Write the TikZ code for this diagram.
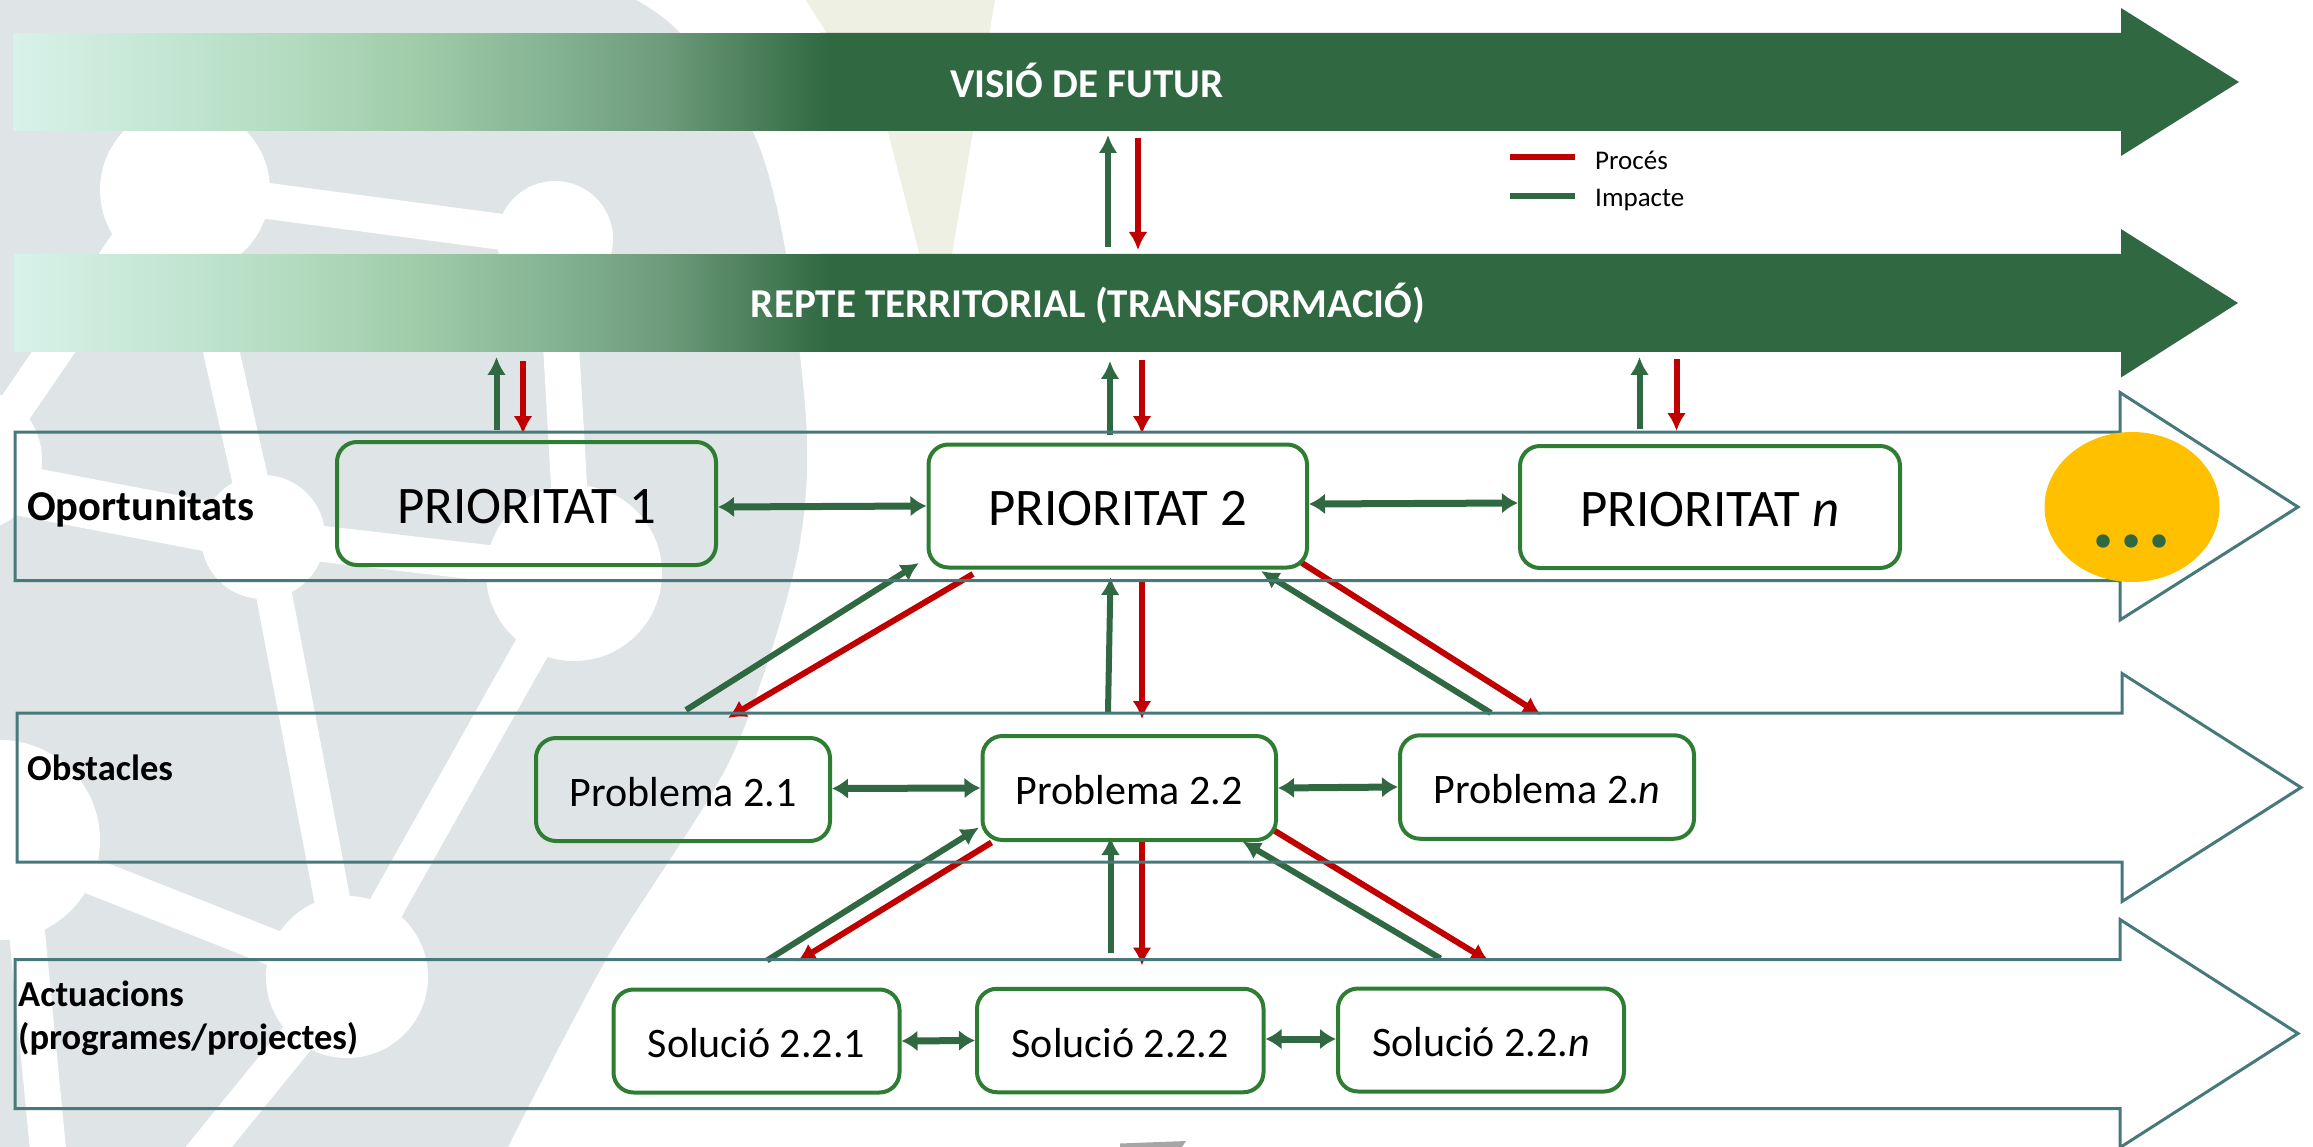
\documentclass[tikz,border=0pt]{standalone}
\usepackage{fontspec}
\setmainfont{Carlito}
\usetikzlibrary{arrows.meta,shapes.geometric}
\definecolor{verda}{HTML}{2F6841}
\definecolor{vermell}{HTML}{C00000}
\definecolor{vora}{HTML}{47797A}
\definecolor{caixaverda}{HTML}{2E7D32}
\definecolor{fons}{HTML}{DFE4E7}
\definecolor{oliva}{HTML}{EEF0E4}
\definecolor{groc}{HTML}{FFC000}
\definecolor{fadeA}{HTML}{D8F2EA}
\definecolor{fadeB}{HTML}{B5DDC2}
\definecolor{fadeC}{HTML}{A0CCAA}
\definecolor{fadeD}{HTML}{84B393}
\definecolor{fadeE}{HTML}{6C9A7A}
\pgfdeclarehorizontalshading{bandfade}{100bp}{color(0bp)=(fadeA); color(25bp)=(fadeA); color(41bp)=(fadeB); color(49.5bp)=(fadeC); color(58bp)=(fadeD); color(65bp)=(fadeE); color(75bp)=(verda); color(100bp)=(verda)}
\tikzset{
  impacte/.style={draw=verda,line width=6pt,-{Latex[length=18pt,width=19pt]}},
  proces/.style={draw=vermell,line width=6pt,-{Latex[length=18pt,width=19pt]}},
  enllac/.style={draw=verda,line width=7pt,{Latex[length=16pt,width=21pt]}-{Latex[length=16pt,width=21pt]}},
  fletxa/.style={draw=vora,line width=3pt,miter limit=10},
  xarxa/.style={draw=white,line width=36pt},
  caixa/.style={draw=caixaverda,line width=4pt,rounded corners=20pt,text height=33pt,text depth=0pt,font=\fontsize{42}{50}\selectfont},
  gran/.style={text height=39pt,font=\fontsize{52.8}{60}\selectfont},
  titol/.style={text=white,font=\bfseries\fontsize{41}{48}\selectfont},
  etiqueta/.style={anchor=west,align=left,font=\bfseries\fontsize{36.5}{43}\selectfont},
  llegenda/.style={anchor=west,font=\fontsize{27}{32}\selectfont}
}
\begin{document}
\begin{tikzpicture}[x=1pt,y=-1pt]
\tikzstyle{every node}+=[inner sep=0pt]
\useasboundingbox (0,0) rectangle (2313,1147);
\fill [fons] (0,0) -- plot [smooth] coordinates {(636,0) (680,33) (753,132) (786,254) (807,439) (794,571) (730,760) (607,958) (508,1147)} -- (0,1147) -- cycle;
\draw [xarxa] (185,190) -- (555,239);
\draw [xarxa] (185,190) -- (263,537);
\draw [xarxa] (130,240) -- (-10,445);
\draw [xarxa,line width=50pt] (-30,481) -- (263,537);
\draw [xarxa] (263,537) -- (574,573);
\draw [xarxa] (555,239) -- (574,573);
\draw [xarxa] (263,537) -- (347,977);
\draw [xarxa] (574,573) -- (347,977);
\draw [xarxa] (0,840) -- (347,977);
\draw [xarxa] (347,977) -- (190,1170);
\draw [xarxa] (20,860) -- (49,1160);
\fill [white] (185,190) circle (85);
\fill [white] (555,239) circle (58);
\fill [white] (263,537) circle (62);
\fill [white] (574,573) circle (88);
\fill [white] (347,977) circle (81);
\fill [white] (0,840) circle (100);
\fill [white] (-30,460) circle (72);
\fill [oliva] (806,0) -- (995,0) -- (973,132) -- (951,260) -- (921,260) -- (888,132) -- cycle;
\fill [black!35] (1120,1143.5) -- (1186,1141) -- (1182,1147) -- (1120,1147) -- cycle;
\fill [verda] (820,33) -- (2121,33) -- (2121,8) -- (2239,82) -- (2121,156) -- (2121,131) -- (820,131) -- cycle;
\shade [shading=bandfade] (13,33.5) rectangle (830,130.5);
\fill [verda] (820,254) -- (2121,254) -- (2121,229) -- (2238,303) -- (2121,377.5) -- (2121,352) -- (820,352) -- cycle;
\shade [shading=bandfade] (14,254.5) rectangle (831,351.5);
\node [titol] (visio) at (1087,80) {VISIÓ DE FUTUR};
\node [titol] (repte) at (1088,303) {REPTE TERRITORIAL (TRANSFORMACIÓ)};
\coordinate (visioA) at (1108,247);
\coordinate (visioB) at (1108,135);
\draw [impacte] (visioA) -- (visioB);
\coordinate (visioC) at (1138,138);
\coordinate (visioD) at (1138,250);
\draw [proces] (visioC) -- (visioD);
\coordinate (repteA) at (496.5,430);
\coordinate (repteB) at (496.5,357);
\draw [impacte] (repteA) -- (repteB);
\coordinate (repteC) at (523,361);
\coordinate (repteD) at (523,434);
\draw [proces] (repteC) -- (repteD);
\coordinate (repteE) at (1110,435);
\coordinate (repteF) at (1110,361);
\draw [impacte] (repteE) -- (repteF);
\coordinate (repteG) at (1142,360.5);
\coordinate (repteH) at (1142,434);
\draw [proces] (repteG) -- (repteH);
\coordinate (repteI) at (1639.5,429);
\coordinate (repteJ) at (1639.5,357);
\draw [impacte] (repteI) -- (repteJ);
\coordinate (repteK) at (1676.5,359.5);
\coordinate (repteL) at (1676.5,431);
\draw [proces] (repteK) -- (repteL);
\coordinate (obsA) at (686,710);
\coordinate (obsB) at (919,563);
\draw [impacte] (obsA) -- (obsB);
\coordinate (obsC) at (973,574);
\coordinate (obsD) at (728,718);
\draw [proces] (obsC) -- (obsD);
\coordinate (obsE) at (1108,712);
\coordinate (obsF) at (1110.5,577);
\draw [impacte] (obsE) -- (obsF);
\coordinate (obsG) at (1142,581);
\coordinate (obsH) at (1142,719);
\draw [proces] (obsG) -- (obsH);
\coordinate (obsI) at (1491,713);
\coordinate (obsJ) at (1261,571);
\draw [impacte] (obsI) -- (obsJ);
\coordinate (obsK) at (1302,563);
\coordinate (obsL) at (1541,715);
\draw [proces] (obsK) -- (obsL);
\coordinate (actA) at (767,960.5);
\coordinate (actB) at (979,827.5);
\draw [impacte] (actA) -- (actB);
\coordinate (actC) at (991.5,842.5);
\coordinate (actD) at (797.5,961.5);
\draw [proces] (actC) -- (actD);
\coordinate (actE) at (1110.5,953);
\coordinate (actF) at (1110.5,837);
\draw [impacte] (actE) -- (actF);
\coordinate (actG) at (1142,841);
\coordinate (actH) at (1142,965.5);
\draw [proces] (actG) -- (actH);
\coordinate (actI) at (1440.5,958.5);
\coordinate (actJ) at (1242.5,841.5);
\draw [impacte] (actI) -- (actJ);
\coordinate (actK) at (1272.5,829.5);
\coordinate (actL) at (1489,961.5);
\draw [proces] (actK) -- (actL);
\draw [fletxa] (15,432) -- (2120,432) -- (2120,392.5) -- (2298,507) -- (2120,620) -- (2120,580.5) -- (15,580.5) -- cycle;
\draw [fletxa] (17,713) -- (2122,713) -- (2122,673.5) -- (2301,787.5) -- (2122,901.5) -- (2122,862) -- (17,862) -- cycle;
\draw [fletxa] (15,959.5) -- (2120,959.5) -- (2120,919.5) -- (2298,1033.5) -- (2120,1147.5) -- (2120,1108.5) -- (15,1108.5) -- cycle;
\node [etiqueta,font=\bfseries\fontsize{42.5}{50}\selectfont] (oportunitats) at (27,509) {Oportunitats};
\node [etiqueta] (obstacles) at (27,768) {Obstacles};
\node [etiqueta] (actuacions) at (18,1018.5) {Actuacions\\(programes/projectes)};
\node [caixa,gran,minimum width=379pt,minimum height=123pt] (prioritat1) at (526.5,503.5) {PRIORITAT 1};
\node [caixa,gran,minimum width=378.5pt,minimum height=123pt] (prioritat2) at (1117.75,506) {PRIORITAT 2};
\node [caixa,gran,minimum width=380pt,minimum height=122pt] (prioritatn) at (1710,507) {PRIORITAT \textit{n}};
\node [caixa,minimum width=294pt,minimum height=103pt] (problema1) at (683,789.5) {Problema 2.1};
\node [caixa,minimum width=293.5pt,minimum height=104pt] (problema2) at (1129.25,788) {Problema 2.2};
\node [caixa,minimum width=294pt,minimum height=103.5pt] (probleman) at (1547,787) {Problema 2.\textit{n}};
\node [caixa,minimum width=286pt,minimum height=103pt] (solucio1) at (756.5,1041) {Solució 2.2.1};
\node [caixa,minimum width=286.5pt,minimum height=103.5pt] (solucio2) at (1120.25,1040.5) {Solució 2.2.2};
\node [caixa,minimum width=286pt,minimum height=103pt] (solucion) at (1481,1040) {Solució 2.2.\textit{n}};
\draw [enllac] ([yshift=-3.5pt]prioritat1.east) -- (prioritat2.west);
\draw [enllac] ([yshift=2pt]prioritat2.east) -- ([yshift=4pt]prioritatn.west);
\draw [enllac] ([yshift=1pt]problema1.east) -- (problema2.west);
\draw [enllac] (problema2.east) -- (probleman.west);
\draw [enllac] (solucio1.east) -- (solucio2.west);
\draw [enllac] ([yshift=1.5pt]solucio2.east) -- ([yshift=1pt]solucion.west);
\node [ellipse,fill=groc,minimum width=175pt,minimum height=150pt] (mes) at (2132,507) {};
\node [anchor=base,text=verda,font=\bfseries\fontsize{90}{95}\selectfont] (punts) at (2132,547) {.\kern4pt.\kern4pt.};
\coordinate (llegendaA) at (1510,157);
\coordinate (llegendaB) at (1575,157);
\draw [vermell,line width=6pt] (llegendaA) -- (llegendaB);
\coordinate (llegendaC) at (1510,196.5);
\coordinate (llegendaD) at (1575,196.5);
\draw [verda,line width=6pt] (llegendaC) -- (llegendaD);
\node [llegenda] (proc) at (1595,160) {Procés};
\node [llegenda] (impa) at (1595,200) {Impacte};
\end{tikzpicture}
\end{document}
